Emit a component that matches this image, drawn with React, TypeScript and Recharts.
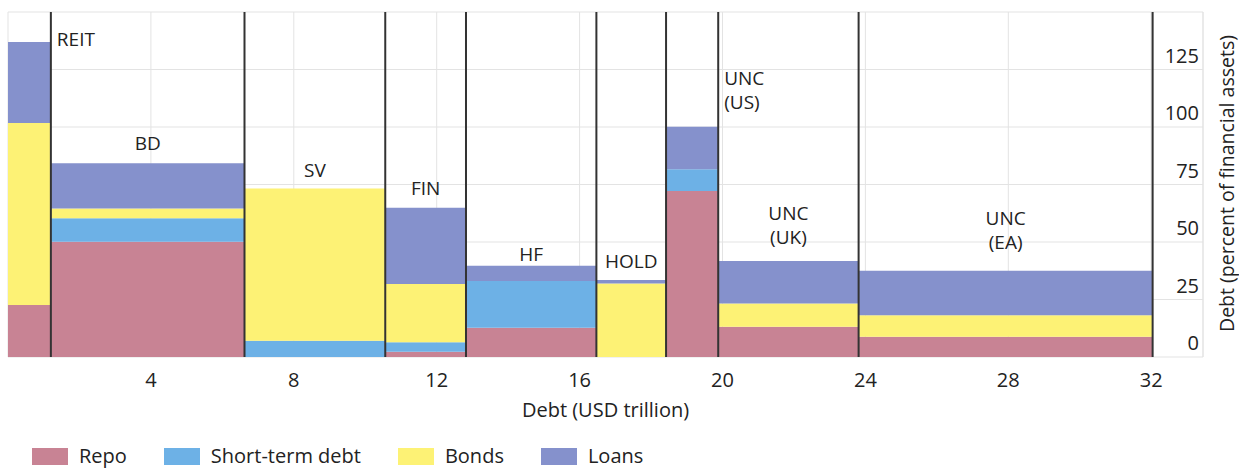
import { Area, AreaChart, CartesianGrid, Legend, ReferenceDot, ReferenceLine, XAxis, YAxis } from 'recharts'

const sectors = ['REIT', 'BD', 'SV', 'FIN', 'HF', 'HOLD', 'UNC\n(US)', 'UNC\n(UK)', 'UNC\n(EA)']
const debtUsdTn = [1.2, 5.42, 3.94, 2.26, 3.65, 1.95, 1.46, 3.93, 8.23]
const repo = [22.6, 50.1, 0, 2.3, 12.7, 0, 72.2, 13.2, 8.8]
const shortTerm = [0, 10.2, 7.1, 4.1, 20.3, 0, 9.4, 0, 0]
const bonds = [79.1, 4.3, 66.2, 25.3, 0, 32.0, 0, 10.1, 9.3]
const loans = [35.3, 19.6, 0, 33.2, 6.7, 1.5, 18.5, 18.4, 19.4]
const xTicks = [0, 4, 8, 12, 16, 20, 24, 28, 32]
const yTicks = [0, 25, 50, 75, 100, 125, 150]

const series = [
  { key: 'repo', name: 'Repo', color: '#c88394' },
  { key: 'shortTerm', name: 'Short-term debt', color: '#6db1e6' },
  { key: 'bonds', name: 'Bonds', color: '#fdf275' },
  { key: 'loans', name: 'Loans', color: '#8591cc' },
]

// label placement: 'side' = right of the column, otherwise centred above it
const labelSide = [true, false, false, false, false, false, true, false, false]
const labelLift = [3, 20, 18, 20, 12, 19, 25, 24, 29]

const X_MAX = 33.45
const FONT = "'Open Sans', sans-serif"
const INK = '#222'

// step rows: one per column start, plus a closing row at the end
const rows: Record<string, number>[] = []
const starts: number[] = []
const ends: number[] = []
let acc = 0
sectors.forEach((_, i) => {
  starts.push(acc)
  rows.push({ x: acc, repo: repo[i], shortTerm: shortTerm[i], bonds: bonds[i], loans: loans[i] })
  acc += debtUsdTn[i]
  ends.push(acc)
})
const last = sectors.length - 1
rows.push({ x: acc, repo: repo[last], shortTerm: shortTerm[last], bonds: bonds[last], loans: loans[last] })

const totals = sectors.map((_, i) => repo[i] + shortTerm[i] + bonds[i] + loans[i])

function YTick(props: any) {
  const { x, y, payload } = props
  if (payload.value === 150) return null
  return (
    <text x={x} y={y - 7} textAnchor="end" fill={INK} fontSize={20} fontFamily={FONT}>
      {payload.value}
    </text>
  )
}

function YTitle(props: any) {
  const vb = props.viewBox || {}
  const cx = 1226
  const cy = vb.y + vb.height / 2 - 1
  return (
    <text x={cx} y={cy} transform={`rotate(-90 ${cx} ${cy})`} textAnchor="middle" dominantBaseline="central" fill={INK} fontSize={19.5} fontFamily={FONT}>
      Debt (percent of financial assets)
    </text>
  )
}

function SectorLabel({ cx, cy, text, side, lift }: { cx: number; cy: number; text: string; side: boolean; lift: number }) {
  const lines = text.split('\n')
  const x = side ? cx + 6 : cx
  return (
    <text x={x} textAnchor={side ? 'start' : 'middle'} fill={INK} fontSize={19} fontFamily={FONT}>
      {lines.map((ln, k) => (
        <tspan key={k} x={x} y={cy - lift - (lines.length - 1 - k) * 24} dominantBaseline="central">
          {ln}
        </tspan>
      ))}
    </text>
  )
}

function LegendBox() {
  return (
    <div style={{ display: 'flex', alignItems: 'center', fontFamily: FONT, fontSize: 20, color: INK, lineHeight: '20px' }}>
      {series.map((s) => (
        <div key={s.key} style={{ display: 'flex', alignItems: 'center', marginRight: 37 }}>
          <span style={{ display: 'inline-block', width: 36, height: 17, background: s.color, marginRight: 11 }} />
          <span>{s.name}</span>
        </div>
      ))}
    </div>
  )
}

export default function App() {
  return (
    <div style={{ position: 'absolute', left: 0, top: 0, width: 1239, height: 468, background: '#fff', fontFamily: FONT }}>
      <AreaChart width={1239} height={468} data={rows} margin={{ top: 12, right: 36, left: 8, bottom: 47 }}>
        <CartesianGrid stroke="#e3e3e3" />
        <XAxis
          type="number"
          dataKey="x"
          domain={[0, X_MAX]}
          ticks={xTicks}
          tickFormatter={(v) => (v === 0 ? '' : String(v))}
          axisLine={false}
          tickLine={false}
          tickMargin={10}
          height={64}
          tick={{ fill: INK, fontSize: 20, fontFamily: FONT }}
          label={{ value: 'Debt (USD trillion)', position: 'insideBottom', offset: 4, fill: INK, fontSize: 20, fontFamily: FONT }}
        />
        <YAxis
          orientation="right"
          mirror
          type="number"
          domain={[0, 150]}
          ticks={yTicks}
          axisLine={false}
          tickLine={false}
          tickSize={0}
          tickMargin={4}
          width={60}
          tick={<YTick />}
          label={<YTitle />}
        />
        {series.map((s) => (
          <Area
            key={s.key}
            type="stepAfter"
            dataKey={s.key}
            name={s.name}
            stackId="debt"
            fill={s.color}
            fillOpacity={1}
            stroke="none"
            isAnimationActive={false}
          />
        ))}
        <ReferenceLine x={X_MAX} stroke="#e3e3e3" />
        {ends.map((e, i) => (
          <ReferenceLine key={`sep-${i}`} x={e} stroke="#333" strokeWidth={2} />
        ))}
        {sectors.map((s, i) => (
          <ReferenceDot
            key={`lbl-${i}`}
            x={labelSide[i] ? ends[i] : starts[i] + debtUsdTn[i] / 2}
            y={totals[i]}
            r={0}
            ifOverflow="visible"
            shape={(p: any) => <SectorLabel cx={p.cx} cy={p.cy} text={s} side={labelSide[i]} lift={labelLift[i]} />}
          />
        ))}
        <Legend
          layout="horizontal"
          verticalAlign="middle"
          align="center"
          content={<LegendBox />}
          wrapperStyle={{ top: 446, left: 32, width: 'auto' }}
        />
      </AreaChart>
    </div>
  )
}
